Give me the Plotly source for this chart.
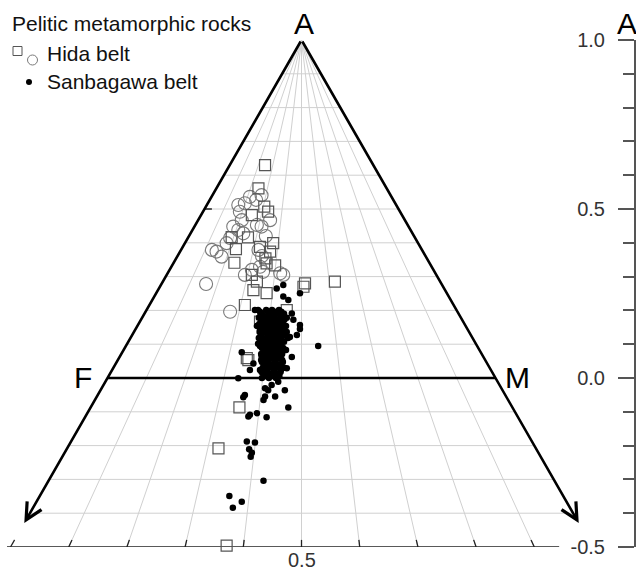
import plotly.graph_objects as go

# ---------------- data (x: position across the AFM diagram, F=0 .. M=1; A: A value) ----------------
hida_sq_x = [0.406, 0.389, 0.404, 0.414, 0.372, 0.320, 0.362, 0.427, 0.393, 0.331,
             0.419, 0.407, 0.327, 0.432, 0.410, 0.385, 0.372, 0.509, 0.505, 0.586,
             0.410, 0.376, 0.354, 0.462, 0.393, 0.363, 0.359, 0.340, 0.286, 0.307]
hida_sq_A = [0.630, 0.561, 0.507, 0.492, 0.482, 0.417, 0.416, 0.399, 0.388, 0.381,
             0.374, 0.354, 0.341, 0.333, 0.339, 0.285, 0.305, 0.280, 0.270, 0.285,
             0.251, 0.260, 0.216, 0.201, 0.167, 0.053, 0.059, -0.087, -0.208, -0.496]

hida_ci_x = [0.397, 0.367, 0.354, 0.337, 0.341, 0.383, 0.346, 0.419, 0.385, 0.397,
             0.324, 0.350, 0.337, 0.307, 0.316, 0.269, 0.281, 0.294, 0.389, 0.398,
             0.393, 0.372, 0.354, 0.401, 0.445, 0.453, 0.254, 0.316, 0.408]
hida_ci_A = [0.541, 0.536, 0.517, 0.512, 0.492, 0.527, 0.467, 0.467, 0.453, 0.448,
             0.448, 0.428, 0.438, 0.399, 0.414, 0.379, 0.374, 0.359, 0.379, 0.361,
             0.329, 0.320, 0.305, 0.314, 0.310, 0.305, 0.278, 0.196, 0.420]

sanba_x = [0.388, 0.409, 0.424, 0.442,
           0.393, 0.414, 0.431, 0.448,
           0.398, 0.419, 0.437, 0.455,
           0.394, 0.412, 0.430, 0.446,
           0.390, 0.405, 0.427, 0.447, 0.462,
           0.401, 0.420, 0.440, 0.456,
           0.396, 0.414, 0.434, 0.452,
           0.391, 0.408, 0.427, 0.447,
           0.385, 0.403, 0.421, 0.442, 0.460,
           0.398, 0.416, 0.435, 0.453,
           0.393, 0.411, 0.429, 0.447,
           0.392, 0.405, 0.424, 0.442, 0.462,
           0.398, 0.419, 0.437, 0.457,
           0.395, 0.414, 0.432, 0.451,
           0.390, 0.409, 0.427, 0.445, 0.465,
           0.396, 0.413, 0.431, 0.449,
           0.401, 0.419, 0.437, 0.455,
           0.388, 0.406, 0.425, 0.442,
           0.393, 0.411, 0.429, 0.447,
           0.398, 0.416, 0.434, 0.453,
           0.403, 0.421, 0.439, 0.460,
           0.409, 0.427, 0.444,
           0.396, 0.414, 0.432, 0.450,
           0.397, 0.410, 0.428, 0.447,
           0.403, 0.421, 0.442,
           0.396, 0.413, 0.431, 0.450,
           0.398, 0.414, 0.432, 0.452,
           0.405, 0.423, 0.440,
           0.406, 0.424, 0.442,
           0.400, 0.418, 0.436, 0.455,
           0.393, 0.411, 0.429, 0.447,
           0.397, 0.412, 0.430, 0.446,
           0.403, 0.421, 0.439,
           0.408, 0.427, 0.443,
           0.398, 0.416, 0.434,
           0.436, 0.453, 0.453, 0.466, 0.496, 0.380, 0.475, 0.479, 0.496, 0.496,
           0.488, 0.470, 0.346, 0.376, 0.367, 0.337, 0.457, 0.475, 0.462, 0.440,
           0.423, 0.406, 0.457, 0.414, 0.406, 0.402, 0.432, 0.354, 0.350, 0.466,
           0.367, 0.363, 0.385, 0.410, 0.543, 0.359, 0.380, 0.365, 0.372, 0.369,
           0.402, 0.314, 0.346, 0.323]
sanba_A = [0.201, 0.201, 0.201, 0.201,
           0.196, 0.196, 0.196, 0.196,
           0.190, 0.190, 0.190, 0.190,
           0.184, 0.184, 0.184, 0.184,
           0.178, 0.178, 0.178, 0.178, 0.178,
           0.172, 0.172, 0.172, 0.172,
           0.166, 0.166, 0.166, 0.166,
           0.160, 0.160, 0.160, 0.160,
           0.154, 0.154, 0.154, 0.154, 0.154,
           0.148, 0.148, 0.148, 0.148,
           0.142, 0.142, 0.142, 0.142,
           0.136, 0.136, 0.136, 0.136, 0.136,
           0.130, 0.130, 0.130, 0.130,
           0.124, 0.124, 0.124, 0.124,
           0.118, 0.118, 0.118, 0.118, 0.118,
           0.112, 0.112, 0.112, 0.112,
           0.107, 0.107, 0.107, 0.107,
           0.101, 0.101, 0.101, 0.101,
           0.095, 0.095, 0.095, 0.095,
           0.089, 0.089, 0.089, 0.089,
           0.083, 0.083, 0.083, 0.083,
           0.077, 0.077, 0.077,
           0.071, 0.071, 0.071, 0.071,
           0.065, 0.065, 0.065, 0.065,
           0.059, 0.059, 0.059,
           0.053, 0.053, 0.053, 0.053,
           0.047, 0.047, 0.047, 0.047,
           0.041, 0.041, 0.041,
           0.036, 0.036, 0.036,
           0.030, 0.030, 0.030, 0.030,
           0.024, 0.024, 0.024, 0.024,
           0.018, 0.018, 0.018, 0.018,
           0.012, 0.012, 0.012,
           0.006, 0.006, 0.006,
           0.000, 0.000, 0.000,
           0.265, 0.275, 0.241, 0.231, 0.251, 0.201, 0.191, 0.172, 0.157, 0.145,
           0.127, 0.121, 0.076, 0.043, 0.024, -0.001, 0.083, 0.062, 0.029, -0.011,
           -0.021, -0.030, -0.036, -0.036, -0.055, -0.065, -0.055, -0.050, -0.057, -0.087,
           -0.109, -0.114, -0.104, -0.116, 0.095, -0.188, -0.191, -0.211, -0.221, -0.233,
           -0.304, -0.349, -0.366, -0.384]

A_grid = [0.9, 0.8, 0.7, 0.6, 0.5, 0.4, 0.3, 0.2, 0.1, -0.1, -0.2, -0.3, -0.4]
ratio_grid = [0.1, 0.2, 0.3, 0.4, 0.5, 0.6, 0.7, 0.8, 0.9]
bottom_ticks = [0.0, 0.1, 0.2, 0.3, 0.4, 0.5, 0.6, 0.7, 0.8, 0.9]
bottom_labels = ["", "", "", "", "", "0.5", "", "", "", ""]
right_ticks = [1.0, 0.5, 0.0, -0.5]
right_labels = ["1.0", "0.5", "0.0", "-0.5"]
right_minor = [0.9, 0.8, 0.7, 0.6, 0.4, 0.3, 0.2, 0.1, -0.1, -0.2, -0.3, -0.4]
legend_title = "Pelitic metamorphic rocks"
legend_names = ["Hida belt", "Sanbagawa belt"]

# ---------------- figure ----------------
FONT = "Liberation Sans, Arial, sans-serif"
A_MIN = -0.5
ARROW_A = -0.429           # A level of the arrow tips
AXIS_SPAN = (-0.259, 1.164)

fig = go.Figure()

# light grid: horizontal A lines and rays from apex
gx, gy = [], []
for a in A_grid:
    gx += [a / 2, 1 - a / 2, None]
    gy += [a, a, None]
for r in ratio_grid:
    gx += [0.5, -0.25 + 1.5 * r, None]
    gy += [1.0, A_MIN, None]
fig.add_trace(go.Scatter(x=gx, y=gy, mode="lines", line=dict(color="#d0d0d0", width=1),
                         hoverinfo="skip"))

# bottom axis with slanted ticks
tx, ty = [], []
for r in bottom_ticks:
    bx = -0.25 + 1.5 * r
    t = 0.014
    tx += [bx, bx + t * (0.5 - bx), None]
    ty += [A_MIN, A_MIN + t * (1.0 - A_MIN), None]
fig.add_trace(go.Scatter(x=tx, y=ty, mode="lines", line=dict(color="#222", width=1.3),
                         hoverinfo="skip", cliponaxis=False))
fig.add_trace(go.Scatter(x=list(AXIS_SPAN), y=[A_MIN, A_MIN], mode="lines",
                         line=dict(color="#222", width=1.6), hoverinfo="skip", cliponaxis=False))
for r, lab in zip(bottom_ticks, bottom_labels):
    if lab:
        fig.add_annotation(x=-0.25 + 1.5 * r, y=A_MIN, xref="x", yref="y", text=lab,
                           showarrow=False, yanchor="top", yshift=-3, height=18,
                           valign="middle", borderpad=0,
                           font=dict(family=FONT, size=20, color="#333"))

# F-M line and small tick at A=0.5 on left edge
fig.add_trace(go.Scatter(x=[0, 1], y=[0, 0], mode="lines", line=dict(color="black", width=2.6),
                         hoverinfo="skip"))
fig.add_trace(go.Scatter(x=[0.25, 0.269], y=[0.5, 0.5], mode="lines",
                         line=dict(color="#222", width=1.5), hoverinfo="skip"))

# data
fig.add_trace(go.Scatter(x=hida_ci_x, y=hida_ci_A, mode="markers", name="Hida belt (circle)",
                         marker=dict(symbol="circle-open", size=13, color="#7a7a7a",
                                     line=dict(width=1.1))))
fig.add_trace(go.Scatter(x=hida_sq_x, y=hida_sq_A, mode="markers", name="Hida belt (square)",
                         marker=dict(symbol="square-open", size=11, color="#555",
                                     line=dict(width=1.2)), cliponaxis=False))
fig.add_trace(go.Scatter(x=sanba_x, y=sanba_A, mode="markers", name="Sanbagawa belt",
                         marker=dict(symbol="circle", size=6.5, color="black",
                                     line=dict(width=0))))

# triangle edges with arrows
for tip_x in (ARROW_A / 2, 1 - ARROW_A / 2):
    fig.add_annotation(x=tip_x, y=ARROW_A, ax=0.5, ay=1.0, xref="x", yref="y",
                       axref="x", ayref="y", text="", showarrow=True, arrowhead=5,
                       arrowsize=1.25, arrowwidth=2.6, arrowcolor="black", standoff=0)

# layout helpers (pixel -> paper)
def pxx(px):
    return px / 635.0


def pxy(py):
    return (547.0 - py) / 507.0


big = dict(family=FONT, size=30, color="black")
fig.add_annotation(x=pxx(304), y=pxy(23), xref="paper", yref="paper", text="A", showarrow=False,
                   xanchor="center", yanchor="middle", font=big)
fig.add_annotation(x=pxx(615), y=pxy(23), xref="paper", yref="paper", text="A", showarrow=False,
                   xanchor="left", yanchor="middle", font=big)
fig.add_annotation(x=pxx(94), y=pxy(377), xref="paper", yref="paper", text="F", showarrow=False,
                   xanchor="right", yanchor="middle", font=big)
fig.add_annotation(x=pxx(503), y=pxy(377), xref="paper", yref="paper", text="M", showarrow=False,
                   xanchor="left", yanchor="middle", font=big)

leg = dict(family=FONT, size=21, color="#111")
fig.add_annotation(x=pxx(10), y=pxy(23), xref="paper", yref="paper", text=legend_title,
                   showarrow=False, xanchor="left", yanchor="middle", font=leg)
fig.add_annotation(x=pxx(45), y=pxy(53), xref="paper", yref="paper", text=legend_names[0],
                   showarrow=False, xanchor="left", yanchor="middle", font=leg)
fig.add_annotation(x=pxx(45), y=pxy(82), xref="paper", yref="paper", text=legend_names[1],
                   showarrow=False, xanchor="left", yanchor="middle", font=leg)

shapes = [
    dict(type="rect", xref="paper", yref="paper", x0=pxx(13), x1=pxx(22), y0=pxy(55.5),
         y1=pxy(46.5), line=dict(color="#555", width=1)),
    dict(type="circle", xref="paper", yref="paper", x0=pxx(27.5), x1=pxx(37.5), y0=pxy(65),
         y1=pxy(55), line=dict(color="#7a7a7a", width=1)),
    dict(type="circle", xref="paper", yref="paper", x0=pxx(26), x1=pxx(32), y0=pxy(85),
         y1=pxy(79), line=dict(width=0), fillcolor="black"),
]

fig.update_layout(
    width=636, height=570,
    margin=dict(l=0, r=1, t=40, b=23),
    plot_bgcolor="white", paper_bgcolor="white",
    showlegend=False,
    shapes=shapes,
    xaxis=dict(range=[-0.2771, 1.3595], visible=False, fixedrange=True),
    yaxis=dict(range=[A_MIN, 1.0], anchor="free", position=1, side="left",
               showgrid=False, zeroline=False, showline=True, linecolor="#555", linewidth=2,
               ticks="outside", ticklen=16, tickwidth=2, tickcolor="#555",
               tickvals=right_ticks, ticktext=right_labels, ticklabelstandoff=9,
               tickfont=dict(family=FONT, size=20, color="#333"),
               minor=dict(tickvals=right_minor, ticks="outside", ticklen=11, tickwidth=2,
                          tickcolor="#555", showgrid=False),
               automargin=False, fixedrange=True),
)

fig.write_html("out.html", config={"displayModeBar": False},
               post_script="document.body.style.margin='0px';")
